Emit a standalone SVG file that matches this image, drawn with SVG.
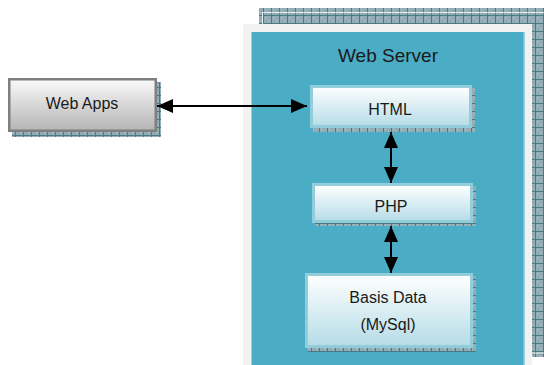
<svg xmlns="http://www.w3.org/2000/svg" width="544" height="365" viewBox="0 0 544 365">
  <defs>
    <!-- hatched shadow texture -->
    <pattern id="hatch" width="8" height="8" patternUnits="userSpaceOnUse">
      <rect width="8" height="8" fill="#93AEB6"/>
      <rect x="1" y="1" width="1" height="1" fill="#B3C6CB"/>
      <rect x="4" y="4" width="1" height="1" fill="#B3C6CB"/>
      <rect x="5" y="2" width="1" height="1" fill="#7D9CA4"/>
      <rect x="2" y="5" width="1" height="1" fill="#7D9CA4"/>
      <path d="M0 7.5H8M7.5 0V8" stroke="#4A7883" stroke-width="1"/>
    </pattern>
    <linearGradient id="greyFill" x1="0" y1="0" x2="0" y2="1">
      <stop offset="0" stop-color="#FAFAFA"/>
      <stop offset="1" stop-color="#B4B4B4"/>
    </linearGradient>
    <linearGradient id="blueFill" x1="0" y1="0" x2="0" y2="1">
      <stop offset="0" stop-color="#FFFFFF"/>
      <stop offset="1" stop-color="#B5DCE7"/>
    </linearGradient>
    <marker id="head" viewBox="0 0 16 14" refX="16" refY="7" markerWidth="16" markerHeight="14" markerUnits="userSpaceOnUse" orient="auto-start-reverse">
      <path d="M0 0L16 7L0 14Z" fill="#000"/>
    </marker>
    <style>
      .label { font-family: "Liberation Sans", Arial, sans-serif; font-size: 16px; fill: #1A1A1A; text-anchor: middle; }
      .title { font-size: 19px; }
      .shadow { fill: url(#hatch); }
      .inner { fill: url(#blueFill); stroke: #92CDDC; stroke-width: 3; }
      .link { stroke: #000; stroke-width: 2; fill: none; marker-start: url(#head); marker-end: url(#head); }
    </style>
  </defs>

  <rect width="544" height="365" fill="#FFFFFF"/>

  <!-- web server container -->
  <g id="web-server">
    <rect class="shadow" x="259" y="8" width="290" height="349"/>
    <rect x="262.5" y="12.5" width="300" height="340.5" fill="none" stroke="#FFFFFF" stroke-width="1" opacity="0.8"/>
    <rect x="243" y="24" width="289" height="345" fill="#F2F2F2"/>
    <rect x="251.5" y="32" width="273" height="340" fill="#4BACC6"/>
    <rect x="523.5" y="32" width="1" height="340" fill="#9ED3E0"/>
    <text class="label title" x="388" y="62">Web Server</text>
  </g>

  <g id="web-apps">
    <rect class="shadow" x="12" y="82" width="149" height="55"/>
    <rect x="9.25" y="79.25" width="146.5" height="51.5" fill="url(#greyFill)" stroke="#7F7F7F" stroke-width="2.5"/>
    <text class="label" x="82" y="109">Web Apps</text>
  </g>

  <g id="html">
    <rect class="shadow" x="313" y="88" width="162" height="44"/>
    <rect class="inner" x="311.5" y="86.5" width="159" height="40"/>
    <text class="label" x="390" y="115">HTML</text>
  </g>

  <g id="php">
    <rect class="shadow" x="315" y="186" width="161" height="40"/>
    <rect class="inner" x="313.5" y="184.5" width="158" height="37"/>
    <text class="label" x="391" y="212">PHP</text>
  </g>

  <g id="basis-data">
    <rect class="shadow" x="308" y="276" width="168" height="76"/>
    <rect class="inner" x="306.5" y="274.5" width="165" height="72"/>
    <text class="label" x="388" y="303">Basis Data</text>
    <text class="label" x="388" y="330">(MySql)</text>
  </g>

  <g id="connectors">
    <line class="link" x1="157" y1="106" x2="307" y2="106"/>
    <line class="link" x1="391" y1="132" x2="391" y2="183"/>
    <line class="link" x1="391" y1="226" x2="391" y2="273"/>
  </g>
</svg>
